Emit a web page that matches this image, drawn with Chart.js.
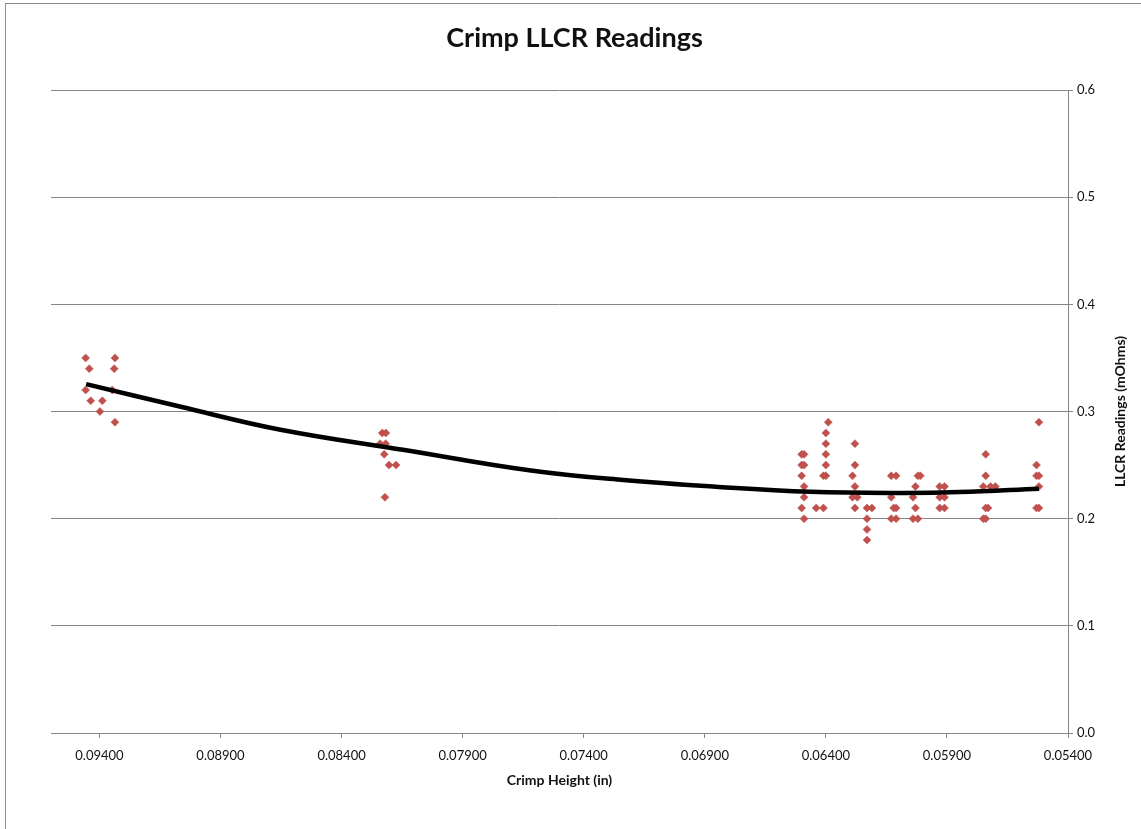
<!DOCTYPE html>
<html>
<head>
<meta charset="utf-8">
<title>Crimp LLCR Readings</title>
<script src="https://cdn.jsdelivr.net/npm/chart.js@4.4.1/dist/chart.umd.min.js"></script>
<style>
  html, body { margin: 0; padding: 0; background: #fff; }
  #wrap { width: 1141px; height: 829px; }
</style>
</head>
<body>
<div id="wrap"><canvas id="chart" width="1141" height="829"></canvas></div>
<script>
// --- Datos ---
const crimpHeight = [
  0.09457, 0.09336, 0.09442, 0.09339, 0.09457, 0.09347, 0.09436, 0.09388, 0.09398, 0.09336,
  0.08232, 0.08217, 0.08241, 0.08218, 0.08224, 0.08204, 0.08175, 0.08221,
  0.0650, 0.0649, 0.0650, 0.0649, 0.0650, 0.0649, 0.0649, 0.0650, 0.0649,
  0.0639, 0.0640, 0.0640, 0.0640, 0.0640, 0.0641, 0.0640, 0.0644, 0.0641,
  0.0628, 0.0628, 0.0629, 0.0628, 0.0629, 0.0627, 0.0628,
  0.0623, 0.0621, 0.0623, 0.0623, 0.0623,
  0.0613, 0.0611, 0.0613, 0.0612, 0.0611, 0.0613, 0.0611,
  0.0602, 0.0601, 0.0603, 0.0604, 0.0603, 0.0604, 0.0602,
  0.0593, 0.0591, 0.0593, 0.0591, 0.0593, 0.0591,
  0.0574, 0.0574, 0.0575, 0.0572, 0.0570, 0.0574, 0.0573, 0.0575, 0.0574,
  0.0552, 0.0553, 0.0553, 0.0552, 0.0552, 0.0553, 0.0552
];
const llcrReading = [
  0.35, 0.35, 0.34, 0.34, 0.32, 0.32, 0.31, 0.31, 0.30, 0.29,
  0.28, 0.28, 0.27, 0.27, 0.26, 0.25, 0.25, 0.22,
  0.26, 0.26, 0.25, 0.25, 0.24, 0.23, 0.22, 0.21, 0.20,
  0.29, 0.28, 0.27, 0.26, 0.25, 0.24, 0.24, 0.21, 0.21,
  0.27, 0.25, 0.24, 0.23, 0.22, 0.22, 0.21,
  0.21, 0.21, 0.20, 0.19, 0.18,
  0.24, 0.24, 0.22, 0.21, 0.21, 0.20, 0.20,
  0.24, 0.24, 0.23, 0.22, 0.21, 0.20, 0.20,
  0.23, 0.23, 0.22, 0.22, 0.21, 0.21,
  0.26, 0.24, 0.23, 0.23, 0.23, 0.21, 0.21, 0.20, 0.20,
  0.29, 0.25, 0.24, 0.24, 0.23, 0.21, 0.21
];

// Línea de tendencia (polinómica)
const trendHeight = [0.09455, 0.09064, 0.08652, 0.0814, 0.07618, 0.07236, 0.06855, 0.06463, 0.0609, 0.0585, 0.0552];
const trendReading = [0.3256, 0.3044, 0.2830, 0.2640, 0.2450, 0.2360, 0.2298, 0.2251, 0.2240, 0.2248, 0.2280];

const xTickValues = [0.094, 0.089, 0.084, 0.079, 0.074, 0.069, 0.064, 0.059, 0.054];

const TITLE_TEXT = 'Crimp LLCR Readings';
const X_TITLE = 'Crimp Height (in)';
const Y_TITLE = 'LLCR Readings (mOhms)';

const FONT = "Lato, 'Open Sans', sans-serif";
const GRID_COLOR = '#868686';
const TEXT_COLOR = '#111';
const MARKER_COLOR = '#C0504D';

// --- Marco, título y título del eje Y (estilo Excel) ---
const excelDecor = {
  id: 'excelDecor',
  beforeDraw(chart) {
    const ctx = chart.ctx;
    ctx.save();
    ctx.fillStyle = '#fff';
    ctx.fillRect(0, 0, chart.width, chart.height);
    ctx.strokeStyle = '#8c8c8c';
    ctx.lineWidth = 1;
    ctx.strokeRect(5.5, 3.5, chart.width + 20, chart.height + 20);
    ctx.restore();
  },
  afterDraw(chart) {
    const ctx = chart.ctx;
    const area = chart.chartArea;
    ctx.save();
    ctx.fillStyle = TEXT_COLOR;
    ctx.textAlign = 'center';
    ctx.textBaseline = 'middle';
    ctx.font = `bold 27px ${FONT}`;
    ctx.fillText(TITLE_TEXT, chart.width / 2 + 4, 38);

    ctx.translate(chart.width - 21, (area.top + area.bottom) / 2);
    ctx.rotate(-Math.PI / 2);
    ctx.font = `bold 14px ${FONT}`;
    ctx.fillText(Y_TITLE, 0, 0);
    ctx.restore();
  },
};

const points = crimpHeight.map((x, i) => ({ x, y: llcrReading[i] }));
const trend = trendHeight.map((x, i) => ({ x, y: trendReading[i] }));

new Chart(document.getElementById('chart').getContext('2d'), {
  type: 'scatter',
  data: {
    datasets: [
      {
        label: 'Tendencia',
        data: trend,
        showLine: true,
        borderColor: '#000',
        borderWidth: 4.5,
        pointRadius: 0,
        tension: 0.4,
        fill: false,
        order: 0,
      },
      {
        label: 'LLCR',
        data: points,
        pointStyle: 'rectRot',
        pointRadius: 4,
        pointBackgroundColor: MARKER_COLOR,
        pointBorderColor: MARKER_COLOR,
        pointBorderWidth: 0.5,
        order: 1,
      },
    ],
  },
  options: {
    responsive: false,
    animation: false,
    devicePixelRatio: 1,
    layout: { padding: { left: 51, top: 90, right: 0, bottom: 0 } },
    plugins: {
      legend: { display: false },
      tooltip: { enabled: false },
      title: { display: false },
    },
    scales: {
      x: {
        type: 'linear',
        position: 'bottom',
        reverse: true,
        min: 0.054,
        max: 0.096,
        afterBuildTicks: (scale) => { scale.ticks = xTickValues.map(v => ({ value: v })); },
        afterFit: (scale) => { scale.height = 96; },
        grid: { drawOnChartArea: false, drawTicks: true, tickLength: 5, color: GRID_COLOR },
        border: { display: true, color: GRID_COLOR, width: 1 },
        ticks: {
          color: TEXT_COLOR,
          font: { family: FONT, size: 13 },
          padding: 10,
          maxRotation: 0,
          autoSkip: false,
          callback: (v) => Number(v).toFixed(5),
        },
        title: {
          display: true,
          text: X_TITLE,
          color: TEXT_COLOR,
          font: { family: FONT, size: 14, weight: 'bold' },
          padding: { top: 0, bottom: 40 },
        },
      },
      y: {
        type: 'linear',
        position: 'right',
        min: 0,
        max: 0.6,
        afterFit: (scale) => { scale.width = 73; },
        grid: { drawOnChartArea: true, drawTicks: true, tickLength: 5, color: GRID_COLOR },
        border: { display: true, color: GRID_COLOR, width: 1 },
        ticks: {
          stepSize: 0.1,
          color: TEXT_COLOR,
          font: { family: FONT, size: 13 },
          padding: 4,
          callback: (v) => Number(v).toFixed(1),
        },
      },
    },
  },
  plugins: [excelDecor],
});
</script>
</body>
</html>
